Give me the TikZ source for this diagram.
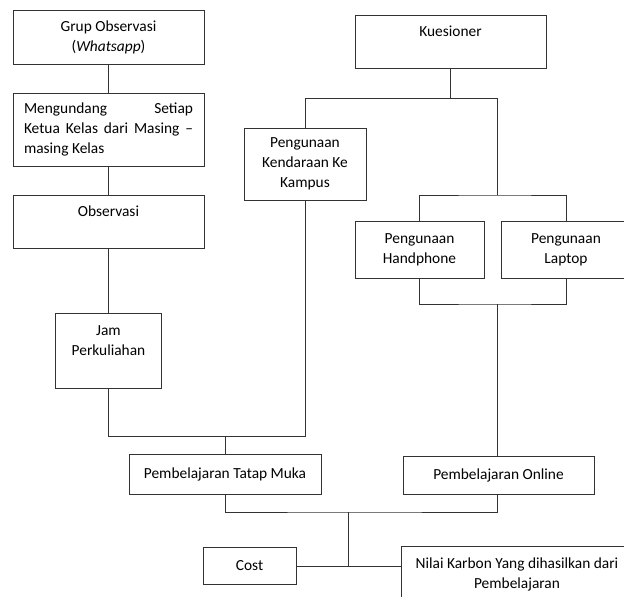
\documentclass[tikz,border=0pt]{standalone}
\usepackage{fontspec}
\setmainfont{Carlito}
\usepackage{tikz}
\usetikzlibrary{positioning}
\usetikzlibrary{calc}
\tikzstyle{block} = [draw=black!80, line width=0.9pt, rectangle, align=center,
    inner sep=0pt, font=\fontsize{15.4}{20}\selectfont]
\tikzstyle{line} = [draw=black!80, line width=0.9pt]

\begin{document}
\begin{tikzpicture}[x=1pt, y=-1pt]
    \useasboundingbox (0,0) rectangle (624,597);
    \clip (0,0) rectangle (624,597);
    % Left column: observation route
    \node [block, minimum width=191pt, minimum height=54pt] (grup) at (108.5,37) {Grup Observasi\\(\textit{Whatsapp})};
    \node [block, minimum width=191pt, minimum height=73pt, text width=169pt, inner xsep=11pt, align=justify] (undang) at (108.5,129.5) {Mengundang Setiap\linebreak Ketua Kelas dari Masing --\linebreak masing Kelas};
    \node [block, minimum width=191pt, minimum height=53pt] (obs) at (108.5,221.5) {Observasi\\~};
    \node [block, minimum width=106pt, minimum height=75pt] (jam) at (108.5,350.5) {Jam\\Perkuliahan\\~};

    % Right column: questionnaire route
    \node [block, minimum width=191pt, minimum height=53pt] (kues) at (450.5,41.5) {Kuesioner\\~};
    \node [block, minimum width=122pt, minimum height=72pt] (kendaraan) at (305,164) {Pengunaan\\Kendaraan Ke\\Kampus};
    \node [block, minimum width=129pt, minimum height=57pt] (hp) at (419.5,249.5) {Pengunaan\\Handphone};
    \node [block, minimum width=130pt, minimum height=57pt] (laptop) at (566,249.5) {Pengunaan\\Laptop};

    % Learning modes and results
    \node [block, minimum width=192pt, minimum height=40pt] (tatap) at (225,474) {Pembelajaran Tatap Muka};
    \node [block, minimum width=191pt, minimum height=38pt] (online) at (498.5,475) {Pembelajaran Online};
    \node [block, minimum width=93pt, minimum height=37pt] (cost) at (249.5,566) {Cost};
    \node [block, minimum width=232pt, minimum height=57pt] (nilai) at (517,574.5) {Nilai Karbon Yang dihasilkan dari\\Pembelajaran};

    \coordinate (cabang) at (497,195);
    \coordinate (gabung) at (497,304);
    \coordinate (atas) at ([yshift=17pt]tatap.north);
    \coordinate (temu) at (348,512);

    % Once the nodes are placed, connecting them is easy.
    \draw [line] (grup) -- (undang);
    \draw [line] (undang) -- (obs);
    \draw [line] (obs) -- (jam);
    \draw [line] (kues.south) -- ++(0,30) -| (kendaraan.north);
    \draw [line] (kues.south) -- ++(0,30) -| (cabang);
    \draw [line] (hp.north) |- (cabang) -| (laptop.north);
    \draw [line] (hp.south) |- (gabung) -| (laptop.south);
    \draw [line] (gabung) -- (gabung |- online.north);
    \draw [line] (jam.south) |- (atas) -| (kendaraan.south);
    \draw [line] (atas) -- (tatap.north);
    \draw [line] (tatap.south) |- (temu) -| (gabung |- online.south);
    \draw [line] (temu) -- (temu |- cost.east);
    \draw [line] (cost.east) -- (nilai.west |- cost.east);
\end{tikzpicture}
\end{document}
